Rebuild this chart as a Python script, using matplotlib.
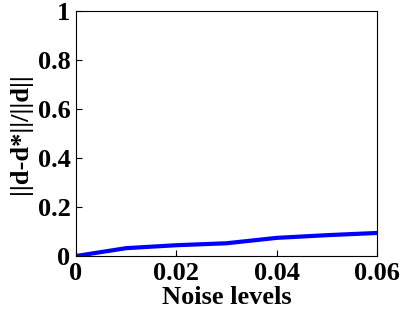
import numpy as np
import matplotlib
matplotlib.use("Agg")
import matplotlib.pyplot as plt

noise = [0, 0.01, 0.02, 0.03, 0.04, 0.05, 0.06]
err = [0.0, 0.032, 0.044, 0.052, 0.074, 0.085, 0.094]

plt.rcParams['font.family'] = ['Liberation Serif', 'DejaVu Serif']
plt.rcParams['font.weight'] = 'bold'

fig = plt.figure(figsize=(4.02, 3.21), dpi=100)
ax = fig.add_axes([76/402, 1-256/321, (377-76)/402, (256-11)/321])
ax.plot(noise, err, color='#0000ff', linewidth=3)
ax.set_xlim(0, 0.06)
ax.set_ylim(0, 1)
ax.set_xticks([0, 0.02, 0.04, 0.06])
ax.set_xticklabels(['0', '0.02', '0.04', '0.06'])
ax.set_yticks([0, 0.2, 0.4, 0.6, 0.8, 1])
ax.set_yticklabels(['0', '0.2', '0.4', '0.6', '0.8', '1'])
ax.tick_params(direction='in', length=4, labelsize=19, width=0.8, pad=4)
ax.set_xlabel('Noise levels', fontsize=19, fontweight='bold', labelpad=1)
ax.set_ylabel('||d-d*||/||d||', fontsize=19, fontweight='bold', labelpad=4)
for s in ax.spines.values():
    s.set_linewidth(0.8)

fig.savefig('out.png', dpi=100)
